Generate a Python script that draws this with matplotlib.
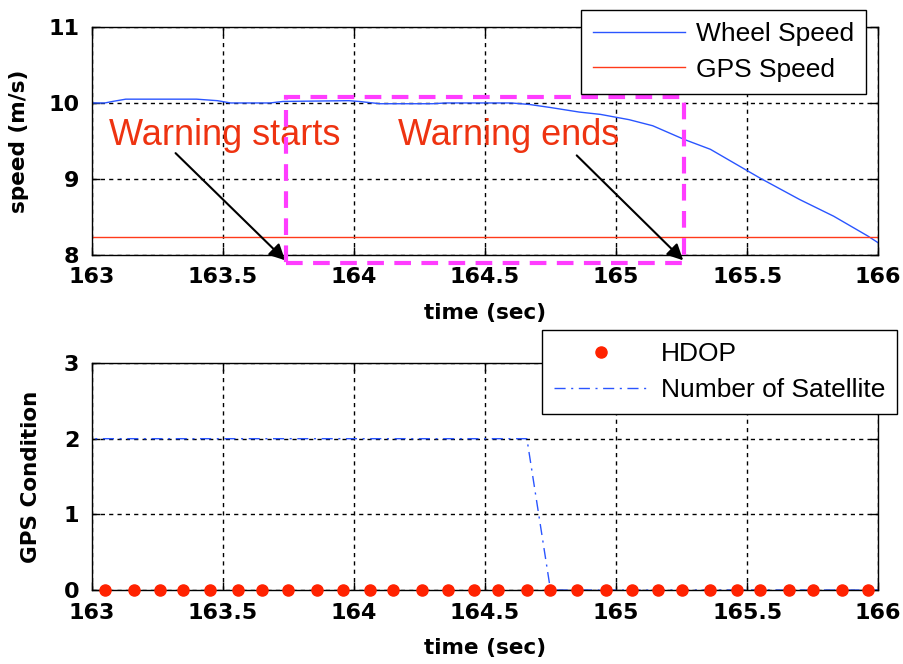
import matplotlib
matplotlib.use("Agg")
import matplotlib.pyplot as plt
from matplotlib.patches import Rectangle

plt.rcParams['font.family'] = ['Liberation Sans', 'DejaVu Sans']

# wheel speed
wheel_t = [163.0, 163.05, 163.08, 163.13, 163.40, 163.48, 163.53, 163.68, 163.73,
           163.98, 164.02, 164.10, 164.30, 164.35, 164.60, 164.67, 164.75, 164.86,
           164.94, 165.05, 165.14, 165.26, 165.36, 165.45, 165.55, 165.70, 165.83,
           165.96, 166.0]
wheel_v = [10.0, 10.0, 10.02, 10.05, 10.05, 10.03, 10.0, 10.0, 10.02,
           10.03, 10.02, 9.99, 9.99, 10.0, 10.0, 9.98, 9.94, 9.88,
           9.85, 9.78, 9.70, 9.52, 9.39, 9.21, 9.01, 8.73, 8.51,
           8.25, 8.16]
gps_speed = 8.23

# GPS samples
gps_t = [163.05, 163.16, 163.26, 163.35, 163.45, 163.56, 163.65, 163.75, 163.86, 163.96,
         164.06, 164.15, 164.26, 164.36, 164.46, 164.55, 164.66, 164.75, 164.85, 164.96,
         165.06, 165.16, 165.25, 165.36, 165.46, 165.55, 165.66, 165.75, 165.86, 165.96]
hdop = [0] * len(gps_t)
sat_t = [162.95] + gps_t + [166.06]
sat_n = [2] * 18 + [0] * 14

xticks = [163, 163.5, 164, 164.5, 165, 165.5, 166]
xticklabels = ["163", "163.5", "164", "164.5", "165", "165.5", "166"]

blue = '#2a55ff'
red = '#ff3a1a'
magenta = '#ff3cff'
warn_red = '#ee3311'
bold_font = dict(family='DejaVu Sans', weight='bold')

fig = plt.figure(figsize=(9.04, 6.64), dpi=100)
ax1 = fig.add_axes([0.1014, 0.616, 0.8701, 0.3434])
ax2 = fig.add_axes([0.1014, 0.1114, 0.8701, 0.3419])

def style(ax, ylim, yticks):
    ax.set_xlim(163, 166)
    ax.set_ylim(*ylim)
    ax.set_xticks(xticks)
    ax.set_xticklabels(xticklabels)
    ax.set_yticks(yticks)
    ax.grid(True, color='black', linestyle=(0, (3, 3)), linewidth=1)
    ax.tick_params(direction='in', length=6, width=1, top=True, right=True,
                   labelsize=16, pad=9)
    for lab in ax.get_xticklabels() + ax.get_yticklabels():
        lab.set_fontfamily('DejaVu Sans')
        lab.set_fontweight('bold')
    for s in ax.spines.values():
        s.set_linewidth(1)
        s.set_color('black')
    ax.set_xlabel('time (sec)', fontsize=15.5, labelpad=11, **bold_font)

# top panel
style(ax1, (8, 11), [8, 9, 10, 11])
ax1.plot(wheel_t, wheel_v, color=blue, lw=1, label='Wheel Speed')
ax1.axhline(gps_speed, color=red, lw=1, label='GPS Speed')
ax1.set_ylabel('speed (m/s)', fontsize=15.5, labelpad=14, **bold_font)

rect = Rectangle((163.74, 7.9), 165.26 - 163.74, 10.08 - 7.9, fill=False,
                 edgecolor=magenta, lw=3, linestyle=(0, (4, 2.5)), clip_on=False, zorder=5)
ax1.add_patch(rect)

ax1.text(163.065, 9.45, 'Warning starts', color=warn_red, fontsize=26, va='baseline')
ax1.text(164.17, 9.45, 'Warning ends', color=warn_red, fontsize=26, va='baseline')
arrow = dict(arrowstyle='-|>', mutation_scale=24, lw=1.5, color='black',
             shrinkA=0, shrinkB=0)
ax1.annotate('', xy=(163.738, 7.93), xytext=(163.32, 9.34), arrowprops=arrow,
             annotation_clip=False)
ax1.annotate('', xy=(165.256, 7.93), xytext=(164.85, 9.31), arrowprops=arrow,
             annotation_clip=False)

leg1 = ax1.legend(loc='upper right', bbox_to_anchor=(0.958, 0.985),
                  bbox_transform=fig.transFigure, borderaxespad=0, fontsize=19,
                  handlelength=3.5, handletextpad=0.4, fancybox=False, framealpha=1,
                  edgecolor='black', borderpad=0.45, labelspacing=0.45)
leg1.get_frame().set_linewidth(1)
leg1.set_zorder(10)

# bottom panel
style(ax2, (0, 3), [0, 1, 2, 3])
ax2.plot(gps_t, hdop, 'o', color='#ff2200', markersize=8, label='HDOP', clip_on=False, zorder=4)
ax2.plot(sat_t, sat_n, color=blue, lw=1, linestyle=(0, (8, 4, 1.5, 4)),
         label='Number of Satellite')
ax2.set_ylabel('GPS Condition', fontsize=15.5, labelpad=16, **bold_font)

leg2 = ax2.legend(loc='upper right', bbox_to_anchor=(0.992, 0.503),
                  bbox_transform=fig.transFigure, borderaxespad=0, fontsize=19,
                  handlelength=3.6, handletextpad=0.45, fancybox=False, framealpha=1,
                  edgecolor='black', borderpad=0.45, labelspacing=0.45)
leg2.get_frame().set_linewidth(1)

fig.savefig('out.png', dpi=100)
